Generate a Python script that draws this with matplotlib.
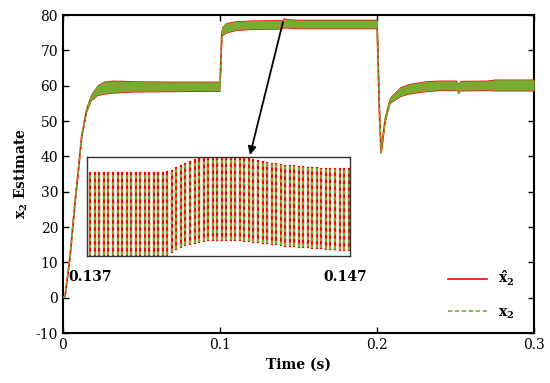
import numpy as np
import matplotlib
matplotlib.use('Agg')
import matplotlib.pyplot as plt
from matplotlib.lines import Line2D

plt.rcParams['font.family'] = 'DejaVu Serif'
plt.rcParams['mathtext.fontset'] = 'dejavuserif'
plt.rcParams['lines.scale_dashes'] = False
plt.rcParams['axes.unicode_minus'] = False

RED = '#ff0000'
GREEN = '#77ac30'

# band envelope of x2 (oscillating signal)
t_key = [0, 0.0013, 0.0045, 0.0076, 0.0098, 0.0119, 0.015, 0.018, 0.022, 0.026,
         0.032, 0.045, 0.07, 0.1, 0.1012, 0.104, 0.11, 0.12, 0.135, 0.1395,
         0.1405, 0.142, 0.15, 0.17, 0.2, 0.2004, 0.2015, 0.2026, 0.2051, 0.2083,
         0.2147, 0.22, 0.231, 0.24, 0.2505, 0.2517, 0.253, 0.27, 0.275, 0.3]
lo_key = [0, 0.3, 11.4, 26.4, 35.7, 45.2, 52.4, 55.8, 57.2, 57.6,
          57.9, 58.2, 58.3, 58.4, 74.0, 74.9, 75.6, 75.9, 76.0, 76.0,
          76.3, 76.3, 76.1, 76.1, 76.1, 70.0, 52.0, 40.5, 49.5, 55.0,
          56.9, 57.6, 58.3, 58.6, 58.6, 57.6, 58.5, 58.6, 58.5, 58.5]
hi_key = [0, 0.3, 11.8, 27.0, 36.3, 46.0, 53.6, 57.9, 60.3, 61.3,
          61.6, 61.4, 61.3, 61.3, 76.8, 77.9, 78.4, 78.6, 78.7, 78.7,
          79.3, 79.0, 78.8, 78.8, 78.8, 73.0, 54.0, 41.6, 51.0, 56.9,
          59.7, 60.6, 61.4, 61.6, 61.6, 60.7, 61.5, 61.6, 61.9, 61.9]

# zoomed window 0.137 - 0.147: per-cycle low and high peaks
inset_hi = [78.45] * 17 + [78.47, 78.51, 78.58, 78.65, 78.70, 78.76, 78.81, 78.85, 78.88] \
    + [78.89] * 8 + [78.87, 78.84, 78.81, 78.78, 78.75, 78.73, 78.71, 78.69, 78.67, 78.65,
                     78.64, 78.63, 78.62, 78.61, 78.60, 78.59, 78.58, 78.57, 78.57, 78.56,
                     78.56, 78.55, 78.55, 78.55]
inset_lo = [76.02] * 17 + [76.04, 76.13, 76.20, 76.25, 76.31, 76.35, 76.39, 76.42, 76.44] \
    + [76.46] * 8 + [76.45, 76.44, 76.42, 76.40, 76.39, 76.37, 76.35, 76.34, 76.32, 76.30,
                     76.29, 76.28, 76.27, 76.26, 76.25, 76.24, 76.24, 76.23, 76.22, 76.21,
                     76.20, 76.19, 76.19, 76.18]

t = np.array(t_key)
lo = np.array(lo_key)
hi = np.array(hi_key)
mid = (lo + hi) / 2

fig = plt.figure(figsize=(5.5, 3.83), dpi=100)
ax = fig.add_axes([0.1145, 0.1305, 0.8565, 0.8303])

ax.plot(t, mid, color=RED, lw=1.2, zorder=2)
ax.fill_between(t, lo, hi, color=RED, lw=0, zorder=3)
ax.fill_between(t, np.minimum(lo + 0.2, mid), np.maximum(hi - 0.2, mid),
                color=GREEN, lw=0, zorder=4)
ax.plot(t, mid, color=GREEN, lw=1.2, dashes=[3, 2], zorder=5)

ax.set_xlim(0, 0.3)
ax.set_ylim(-10, 80)
ax.set_xticks([0, 0.1, 0.2, 0.3])
ax.set_xticklabels(['0', '0.1', '0.2', '0.3'])
ax.set_yticks(np.arange(-10, 81, 10))
ax.tick_params(direction='in', length=4, width=1, top=True, right=True, labelsize=10)
for s in ax.spines.values():
    s.set_linewidth(1.5)
ax.set_xlabel('Time (s)', fontsize=10, fontweight='bold')
ax.set_ylabel(r'$\mathbf{x_2}$ Estimate', fontsize=10, fontweight='bold')

leg_handles = [Line2D([], [], color=RED, lw=1.2),
               Line2D([], [], color=GREEN, lw=1.2, dashes=[3, 2])]
ax.legend(leg_handles, [r'$\mathbf{\hat{x}_2}$', r'$\mathbf{x_2}$'], frameon=False,
          loc='lower right', bbox_to_anchor=(0.985, 0.0), labelspacing=1.2,
          handlelength=2.8, fontsize=10)

# arrow from the bump to the zoom box
ax.annotate('', xy=(0.1191, 40.4), xytext=(0.1401, 78.0),
            arrowprops=dict(arrowstyle='-|>', color='black', lw=1.3,
                            mutation_scale=12, shrinkA=0, shrinkB=0), zorder=6)

# inset
ins = fig.add_axes([0.158, 0.3316, 0.4787, 0.2577])
ts = np.linspace(0.13713, 0.14694, len(inset_hi))
xs = np.column_stack([ts, ts, np.full_like(ts, np.nan)]).ravel()
ys = np.column_stack([inset_lo, inset_hi, np.full_like(ts, np.nan)]).ravel()
ins.plot(xs, ys, color=RED, lw=1.6)
ins.plot(xs, ys, color=GREEN, lw=1.6, dashes=[2.5, 2.5])
ins.set_xlim(0.137, 0.147)
ins.set_ylim(76.0, 78.9)
ins.set_xticks([])
ins.set_yticks([])
for s in ins.spines.values():
    s.set_linewidth(1.0)
    s.set_color('#333333')
fig.text(0.1236, 0.277, '0.137', fontsize=10, fontweight='bold', va='center', ha='left')
fig.text(0.667, 0.277, '0.147', fontsize=10, fontweight='bold', va='center', ha='right')

fig.savefig('out.png', dpi=100)
